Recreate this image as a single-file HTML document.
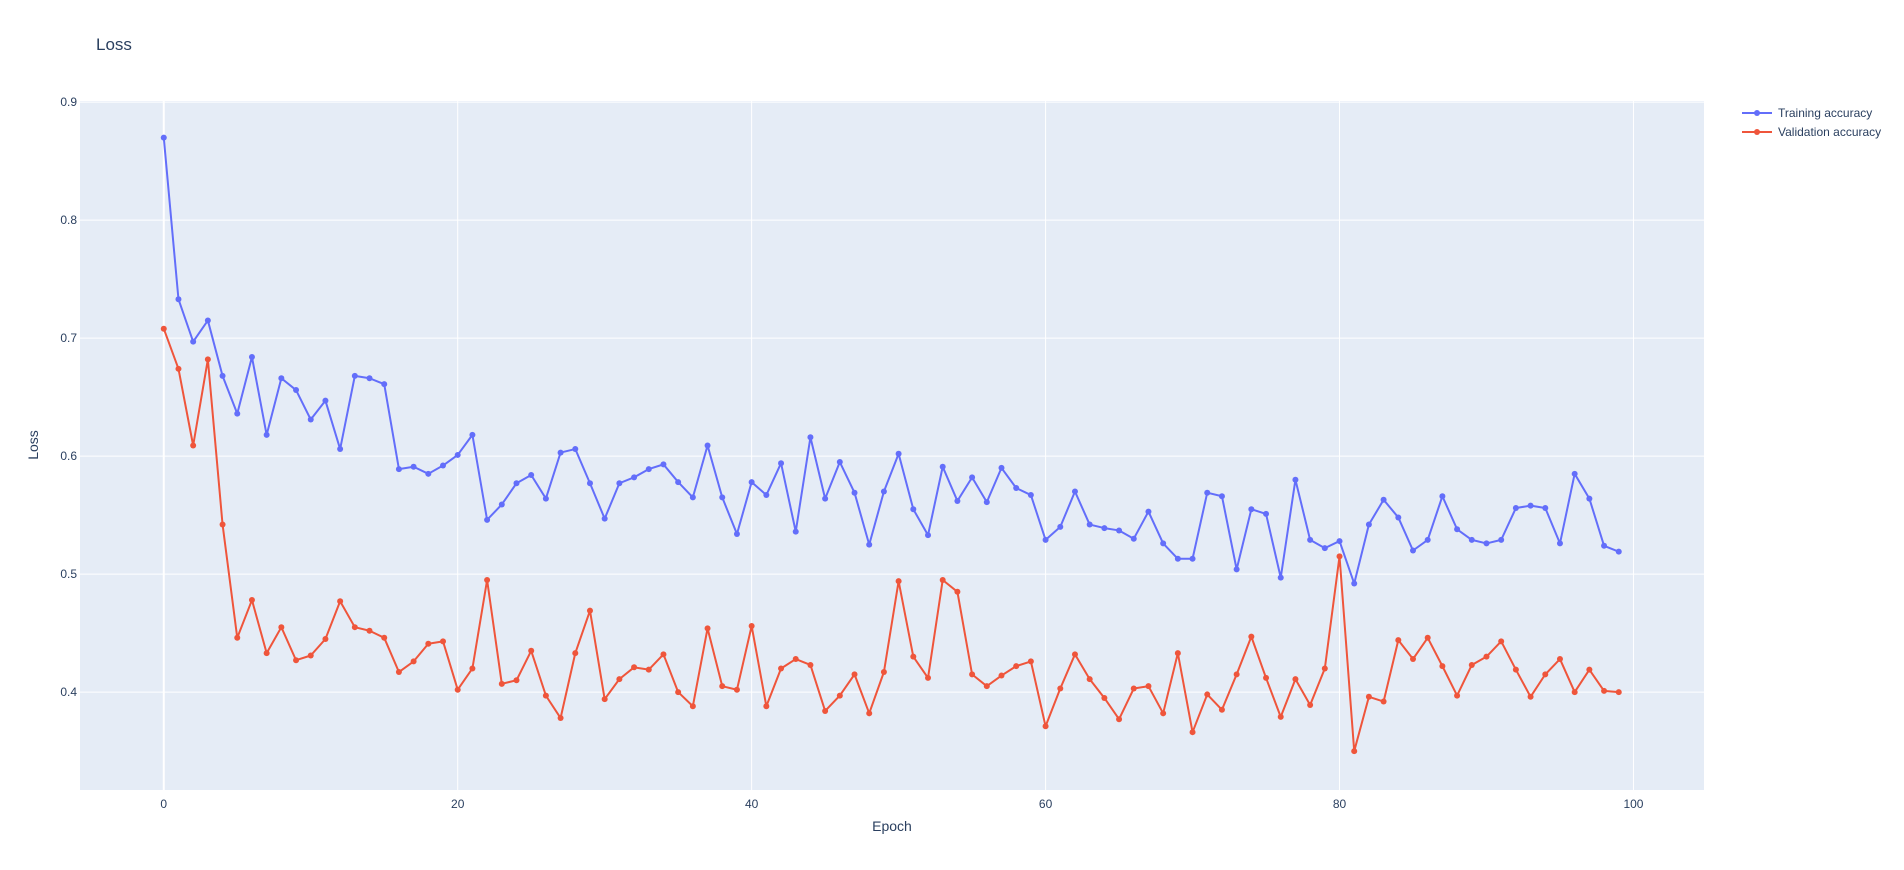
<!DOCTYPE html>
<html><head><meta charset="utf-8"><style>
body{margin:0;background:#fff;}
svg{display:block;font-family:"Liberation Sans",sans-serif;}
</style></head><body>
<svg id="chart" width="1904" height="870" xmlns="http://www.w3.org/2000/svg">
<rect width="1904" height="870" fill="#fff"/>
<text x="96" y="50" font-size="17" fill="#2a3f5f">Loss</text>
<rect x="80" y="101" width="1624" height="689" fill="#e5ecf6"/>
<g id="grid"></g>
<g id="ticks"></g>
<text x="892" y="831" font-size="14" fill="#2a3f5f" text-anchor="middle">Epoch</text>
<text transform="translate(38,445) rotate(-90)" font-size="14" fill="#2a3f5f" text-anchor="middle">Loss</text>
<g id="series"></g>
<g>
<g>
<line x1="1742" y1="113" x2="1772" y2="113" stroke="#636efa" stroke-width="2"/><circle cx="1757" cy="113" r="3" fill="#636efa"/>
<text x="1778" y="117" font-size="12" fill="#2a3f5f">Training accuracy</text></g>
<g>
<line x1="1742" y1="132" x2="1772" y2="132" stroke="#ef553b" stroke-width="2"/><circle cx="1757" cy="132" r="3" fill="#ef553b"/>
<text x="1778" y="136" font-size="12" fill="#2a3f5f">Validation accuracy</text></g>
</g>
</svg>
<script>
const training = [0.870,0.733,0.697,0.715,0.668,0.636,0.684,0.618,0.666,0.656,0.631,0.647,0.606,0.668,0.666,0.661,0.589,0.591,0.585,0.592,0.601,0.618,0.546,0.559,0.577,0.584,0.564,0.603,0.606,0.577,0.547,0.577,0.582,0.589,0.593,0.578,0.565,0.609,0.565,0.534,0.578,0.567,0.594,0.536,0.616,0.564,0.595,0.569,0.525,0.570,0.602,0.555,0.533,0.591,0.562,0.582,0.561,0.590,0.573,0.567,0.529,0.540,0.570,0.542,0.539,0.537,0.530,0.553,0.526,0.513,0.513,0.569,0.566,0.504,0.555,0.551,0.497,0.580,0.529,0.522,0.528,0.492,0.542,0.563,0.548,0.520,0.529,0.566,0.538,0.529,0.526,0.529,0.556,0.558,0.556,0.526,0.585,0.564,0.524,0.519];
const validation = [0.708,0.674,0.609,0.682,0.542,0.446,0.478,0.433,0.455,0.427,0.431,0.445,0.477,0.455,0.452,0.446,0.417,0.426,0.441,0.443,0.402,0.420,0.495,0.407,0.410,0.435,0.397,0.378,0.433,0.469,0.394,0.411,0.421,0.419,0.432,0.400,0.388,0.454,0.405,0.402,0.456,0.388,0.420,0.428,0.423,0.384,0.397,0.415,0.382,0.417,0.494,0.430,0.412,0.495,0.485,0.415,0.405,0.414,0.422,0.426,0.371,0.403,0.432,0.411,0.395,0.377,0.403,0.405,0.382,0.433,0.366,0.398,0.385,0.415,0.447,0.412,0.379,0.411,0.389,0.420,0.515,0.350,0.396,0.392,0.444,0.428,0.446,0.422,0.397,0.423,0.430,0.443,0.419,0.396,0.415,0.428,0.400,0.419,0.401,0.400];
const xTicks = [0,20,40,60,80,100];
const yTicks = [0.4,0.5,0.6,0.7,0.8,0.9];

const NS="http://www.w3.org/2000/svg";
const L=80,R=1704,T=101,B=790;
const xMin=-5.7,xMax=104.8,yMin=0.317,yMax=0.901;
const xs=v=>L+(v-xMin)/(xMax-xMin)*(R-L);
const ys=v=>B-(v-yMin)/(yMax-yMin)*(B-T);
function mk(tag,attrs,parent){const e=document.createElementNS(NS,tag);for(const k in attrs)e.setAttribute(k,attrs[k]);parent.appendChild(e);return e;}
const grid=document.getElementById('grid'),ticks=document.getElementById('ticks'),ser=document.getElementById('series');
yTicks.forEach(v=>{
  const g=mk('line',{x1:L,x2:R,y1:ys(v),y2:ys(v),stroke:'#fff','stroke-width':1},grid);
  
  
  const t=mk('text',{x:L-3,y:ys(v)+4,'font-size':12,fill:'#2a3f5f','text-anchor':'end'},ticks);
  t.textContent=v.toFixed(1);
  
  
});
xTicks.forEach(v=>{
  const g=mk('line',{x1:xs(v),x2:xs(v),y1:T,y2:B,stroke:'#fff','stroke-width':v===0?2:1},grid);
  
  
  const t=mk('text',{x:xs(v),y:B+18,'font-size':12,fill:'#2a3f5f','text-anchor':'middle'},ticks);
  t.textContent=v;
  
  
});
function draw(data,color,name){
  const g=mk('g',{},ser);
  
  
  const p=mk('polyline',{points:data.map((v,i)=>xs(i)+','+ys(v)).join(' '),fill:'none',stroke:color,'stroke-width':2,'stroke-linejoin':'round'},g);
  
  
  data.forEach((v,i)=>{
    const c=mk('circle',{cx:xs(i),cy:ys(v),r:3,fill:color},g);
    
    
  });
}
draw(training,'#636efa','training');
draw(validation,'#ef553b','validation');
</script>
</body></html>
